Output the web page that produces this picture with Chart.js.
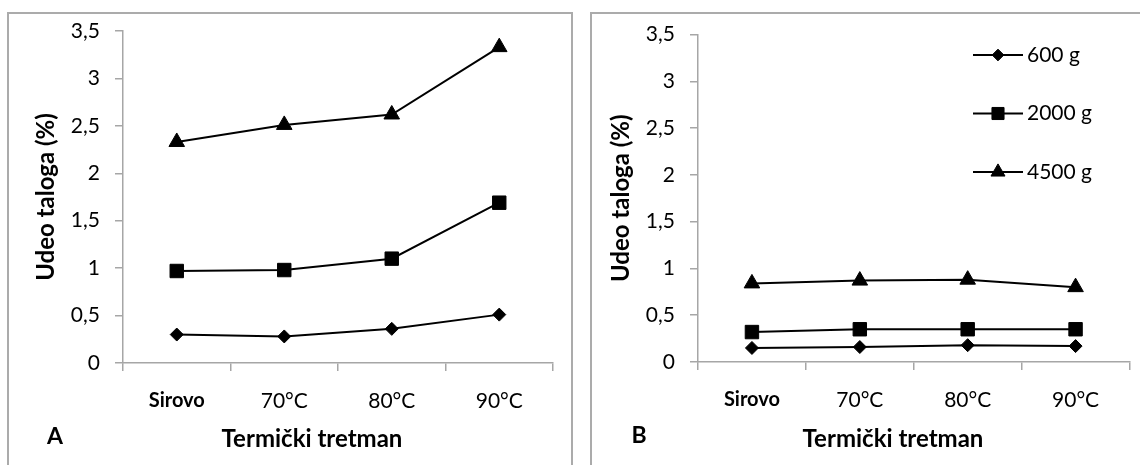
<!DOCTYPE html>
<html>
<head>
<meta charset="utf-8">
<script src="https://cdn.jsdelivr.net/npm/chart.js@4.4.1/dist/chart.umd.min.js"></script>
<style>
  html, body { margin: 0; padding: 0; background: #fff; }
  body { width: 1140px; height: 465px; position: relative; overflow: hidden; font-family: Lato, sans-serif; }
  .panel { position: absolute; box-sizing: border-box; border: 2px solid #ababab; }
  .cv { position: absolute; top: 0; }
  .lbl { position: absolute; transform: translate(-50%, -50%); font-weight: bold; color: #000; white-space: nowrap; line-height: 1; }
</style>
</head>
<body>
<div class="panel" style="left:7px; top:12px; width:566px; height:480px;"></div>
<div class="panel" style="left:590px; top:12px; width:600px; height:480px;"></div>
<canvas id="chartA" class="cv" style="left:0px;" width="572" height="465"></canvas>
<canvas id="chartB" class="cv" style="left:572px;" width="568" height="465"></canvas>
<div class="lbl" style="left:312px; top:438px; font-size:24px;">Termički tretman</div>
<div class="lbl" style="left:893px; top:438px; font-size:24px;">Termički tretman</div>
<div class="lbl" style="left:55px; top:435px; font-size:23px;">A</div>
<div class="lbl" style="left:639px; top:434px; font-size:23px;">B</div>
<script>
// ---- data ----
const categories = ['Sirovo', '70°C', '80°C', '90°C'];
const seriesNames = ['600 g', '2000 g', '4500 g'];
const yTickLabels = ['0', '0,5', '1', '1,5', '2', '2,5', '3', '3,5'];

const a600 = [0.30, 0.28, 0.36, 0.51];
const a2000 = [0.97, 0.98, 1.10, 1.69];
const a4500 = [2.33, 2.51, 2.62, 3.33];

const b600 = [0.15, 0.16, 0.18, 0.17];
const b2000 = [0.32, 0.35, 0.35, 0.35];
const b4500 = [0.84, 0.87, 0.88, 0.80];

// ---- styles ----
const FONT = 'Lato';
const AXIS_GRAY = '#a6a6a6';
const pointStyles = ['rectRot', 'rect', 'triangle'];
const pointRadii = [6.5, 9.5, 9];

function makeDatasets(vals) {
  return vals.map((v, i) => ({
    label: seriesNames[i],
    data: v,
    borderColor: '#000',
    backgroundColor: '#000',
    borderWidth: 2,
    pointStyle: pointStyles[i],
    pointRadius: pointRadii[i],
    pointHoverRadius: pointRadii[i],
    pointBorderWidth: 1,
    pointBackgroundColor: '#000',
    pointBorderColor: '#000',
    tension: 0,
    fill: false
  }));
}

const sideLegend = {
  id: 'sideLegend',
  afterDraw(chart, args, opts) {
    if (!opts || !opts.show) return;
    const ctx = chart.ctx;
    chart.data.datasets.forEach((ds, i) => {
      const y = opts.y0 + i * opts.dy;
      ctx.save();
      ctx.strokeStyle = ds.borderColor;
      ctx.lineWidth = ds.borderWidth;
      ctx.beginPath();
      ctx.moveTo(opts.x0, y);
      ctx.lineTo(opts.x0 + opts.len, y);
      ctx.stroke();
      ctx.fillStyle = ds.pointBackgroundColor;
      ctx.strokeStyle = ds.pointBorderColor;
      ctx.lineWidth = 1;
      Chart.helpers.drawPoint(ctx, { pointStyle: ds.pointStyle, radius: ds.pointRadius * 0.9, borderWidth: 1, rotation: 0 }, opts.x0 + opts.len / 2, y);
      ctx.fillStyle = '#000';
      ctx.font = '21px ' + FONT;
      ctx.textBaseline = 'middle';
      ctx.textAlign = 'left';
      ctx.fillText(ds.label, opts.x0 + opts.len + 4, y);
      ctx.restore();
    });
  }
};

function makeChart(id, vals, geo, legendOpts) {
  return new Chart(document.getElementById(id), {
    type: 'line',
    data: { labels: categories, datasets: makeDatasets(vals) },
    plugins: [sideLegend],
    options: {
      responsive: false,
      animation: false,
      events: [],
      layout: { padding: { left: 0, top: geo.top, right: geo.right, bottom: 0 } },
      plugins: {
        legend: { display: false },
        tooltip: { enabled: false },
        sideLegend: legendOpts
      },
      scales: {
        x: {
          type: 'category',
          offset: true,
          afterFit: s => { s.height = geo.xh; },
          grid: { offset: true, drawOnChartArea: false, drawTicks: true, tickLength: 8, color: AXIS_GRAY, lineWidth: 1.5 },
          border: { display: true, color: AXIS_GRAY, width: 1.5 },
          ticks: {
            padding: 18,
            color: '#000',
            maxRotation: 0,
            font: c => ({ family: FONT, size: c.index === 0 ? 20 : 21, weight: c.index === 0 ? 'bold' : 'normal' })
          },
          title: { display: false }
        },
        y: {
          min: 0, max: 3.5,
          afterFit: s => { s.width = geo.yw; },
          grid: { drawOnChartArea: false, drawTicks: true, tickLength: 8, color: AXIS_GRAY, lineWidth: 1.5 },
          border: { display: true, color: AXIS_GRAY, width: 1.5 },
          ticks: {
            stepSize: 0.5,
            padding: 15,
            color: '#000',
            font: { family: FONT, size: 21 },
            callback: (v, i) => yTickLabels[i]
          },
          title: {
            display: true,
            text: 'Udeo taloga (%)',
            color: '#000',
            font: { family: FONT, size: 24, weight: 'bold' },
            padding: { top: geo.tpad, bottom: 0 }
          }
        }
      }
    }
  });
}

makeChart('chartA', [a600, a2000, a4500], { top: 31, right: 19, xh: 102, yw: 123, tpad: 32 }, { show: false });
makeChart('chartB', [b600, b2000, b4500], { top: 34.5, right: 5, xh: 103, yw: 126, tpad: 35 }, { show: true, x0: 401, len: 50, y0: 55, dy: 58.5 });
</script>
</body>
</html>
